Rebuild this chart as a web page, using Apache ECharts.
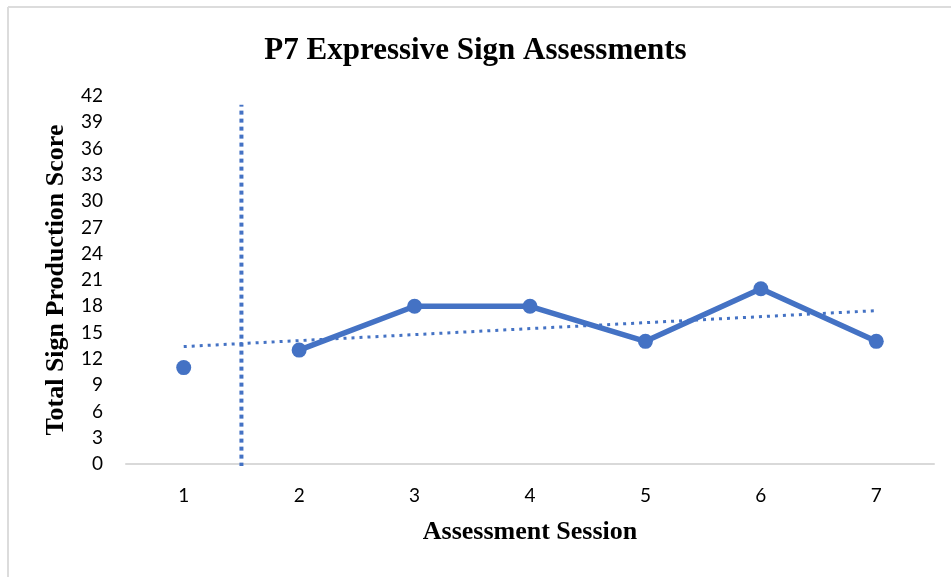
<!DOCTYPE html>
<html><head><meta charset="utf-8">
<script src="https://cdn.jsdelivr.net/npm/echarts@6/dist/echarts.min.js"></script>
<style>html,body{margin:0;padding:0;background:#fff}#c{width:951px;height:577px}</style>
</head><body><div id="c"></div>
<script>
const sessions = ['1','2','3','4','5','6','7'];
const baseline = [11, '-', '-', '-', '-', '-', '-'];
const intervention = ['-', 13, 18, 18, 14, 20, 14];
const trendPoints = [[1, 13.4], [7, 17.5]];
const phaseChange = [[1.5, -0.3], [1.5, 41]];
const yTicks = {min: 0, max: 42, interval: 3};

const blue = '#4472C4';
const tickFont = 'Lato, "Open Sans", sans-serif';
const chart = echarts.init(document.getElementById('c'));
chart.setOption({
  animation: false,
  backgroundColor: '#fff',
  graphic: [
    {type: 'line', shape: {x1: 8, y1: 7, x2: 951, y2: 7}, style: {stroke: '#dcdcdc', lineWidth: 2}},
    {type: 'line', shape: {x1: 8, y1: 7, x2: 8, y2: 577}, style: {stroke: '#dcdcdc', lineWidth: 2}}
  ],
  title: {
    text: 'P7 Expressive Sign Assessments',
    left: 'center', top: 30,
    textStyle: {fontFamily: 'Liberation Serif', fontWeight: 'bold', fontSize: 31, color: '#000'}
  },
  grid: {left: 126, right: 17, top: 96, bottom: 113, containLabel: false},
  xAxis: [{
    type: 'category', data: sessions, boundaryGap: true,
    axisLine: {lineStyle: {color: '#d9d9d9', width: 2}},
    axisTick: {show: false},
    axisLabel: {fontFamily: tickFont, fontSize: 19, color: '#000', margin: 22},
    name: 'Assessment Session', nameLocation: 'middle', nameGap: 55,
    nameTextStyle: {fontFamily: 'Liberation Serif', fontWeight: 'bold', fontSize: 26, color: '#000'}
  }, {
    type: 'value', min: 0.5, max: 7.5, show: false
  }],
  yAxis: {
    type: 'value', min: yTicks.min, max: yTicks.max, interval: yTicks.interval,
    axisLine: {show: false}, axisTick: {show: false}, splitLine: {show: false},
    axisLabel: {fontFamily: tickFont, fontSize: 19, color: '#000', margin: 23},
    name: 'Total Sign Production Score', nameLocation: 'middle', nameGap: 57,
    nameTextStyle: {fontFamily: 'Liberation Serif', fontWeight: 'bold', fontSize: 26, color: '#000'}
  },
  series: [
    {type: 'line', xAxisIndex: 1, data: trendPoints, symbol: 'none',
     lineStyle: {color: blue, width: 3, type: [3, 5]}, z: 1},
    {type: 'line', xAxisIndex: 1, data: phaseChange, symbol: 'none',
     lineStyle: {color: blue, width: 4, type: [4, 4]}, z: 1},
    {type: 'line', data: baseline, symbol: 'circle', symbolSize: 15,
     itemStyle: {color: blue}, lineStyle: {color: blue, width: 5.5}, z: 3},
    {type: 'line', data: intervention, symbol: 'circle', symbolSize: 15,
     itemStyle: {color: blue}, lineStyle: {color: blue, width: 5.5}, z: 3}
  ]
});
</script></body></html>
